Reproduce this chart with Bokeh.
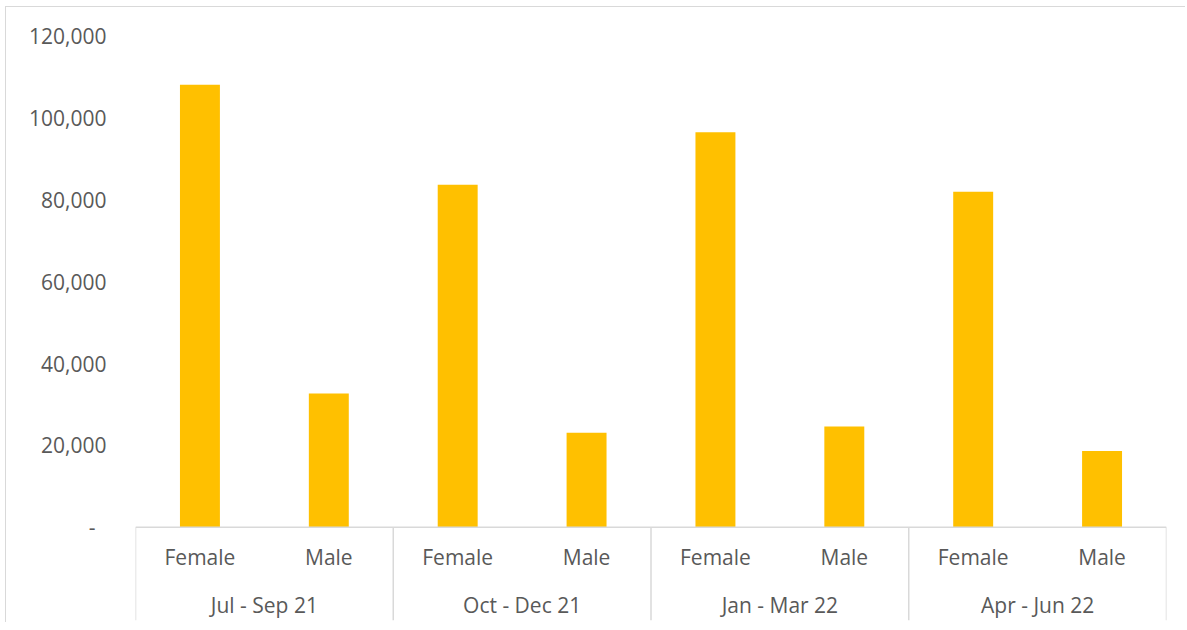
from bokeh.plotting import figure
from bokeh.models import (FactorRange, Range1d, FixedTicker, CustomJSTickFormatter,
                          ColumnDataSource, Span)
from bokeh.core.properties import value
from bokeh.embed import file_html
from bokeh.resources import INLINE

# ---- data ----
quarters = ["Jul - Sep 21", "Oct - Dec 21", "Jan - Mar 22", "Apr - Jun 22"]
genders = ["Female", "Male"]
female = [108100, 83700, 96500, 82000]
male = [32700, 23100, 24600, 18600]
y_ticks = [0, 20000, 40000, 60000, 80000, 100000, 120000]

# ---- style constants ----
FONT = "Open Sans"
FSIZE = "21px"
TXT = "#595959"
LINE = "#d9d9d9"
BAR = "#FFC000"
Y_TOP = 123830
Y_BOTTOM = -22800
Y_GENDER = -7400
Y_QUARTER = -18900

factors = [(q, g) for q in quarters for g in genders]
values = []
for f, m in zip(female, male):
    values += [f, m]

p = figure(
    width=1180, height=616,
    x_range=FactorRange(*factors, group_padding=0, factor_padding=0, range_padding=0),
    y_range=Range1d(Y_BOTTOM, Y_TOP),
    x_axis_location=None,
    output_backend="svg", toolbar_location=None,
    min_border_left=129, min_border_right=20, min_border_top=13, min_border_bottom=3,
    margin=(6, 0, 0, 5),
    styles={"border-top": "1px solid #d9d9d9", "border-left": "1px solid #d9d9d9"},
)
p.outline_line_color = None
p.xgrid.visible = False
p.ygrid.visible = False

# y axis
ya = p.yaxis[0]
ya.ticker = FixedTicker(ticks=y_ticks)
ya.formatter = CustomJSTickFormatter(
    code='return tick == 0 ? "-\\u00a0\\u00a0" : tick.toLocaleString("en-US");')
ya.axis_line_color = None
ya.major_tick_line_color = None
ya.minor_tick_line_color = None
ya.major_tick_out = 0
ya.major_tick_in = 0
ya.major_label_standoff = 29
ya.major_label_text_font = FONT
ya.major_label_text_font_size = FSIZE
ya.major_label_text_color = TXT

# bars
src = ColumnDataSource(dict(x=factors, top=values, label=[g for _, g in factors]))
p.vbar(x="x", top="top", width=0.31, source=src, fill_color=BAR, line_color=None)

# category axis (table style)
p.add_layout(Span(location=0, dimension="width", line_color=LINE, line_width=1.5))
sep_x = [(q, genders[0], -0.5) for q in quarters] + [(quarters[-1], genders[-1], 0.5)]
sep = ColumnDataSource(dict(x=sep_x, y0=[0] * len(sep_x), y1=[Y_BOTTOM] * len(sep_x)))
p.segment(x0="x", y0="y0", x1="x", y1="y1", source=sep, line_color=LINE, line_width=1.5)

p.text(x="x", y=Y_GENDER, text="label", source=src, text_font=value(FONT),
       text_font_size=FSIZE, text_color=TXT, text_align="center", text_baseline="middle")
qsrc = ColumnDataSource(dict(x=quarters, text=quarters))
p.text(x="x", y=Y_QUARTER, text="text", source=qsrc, text_font=value(FONT),
       text_font_size=FSIZE, text_color=TXT, text_align="center", text_baseline="middle")

open("out.html", "w").write(file_html(p, INLINE))
